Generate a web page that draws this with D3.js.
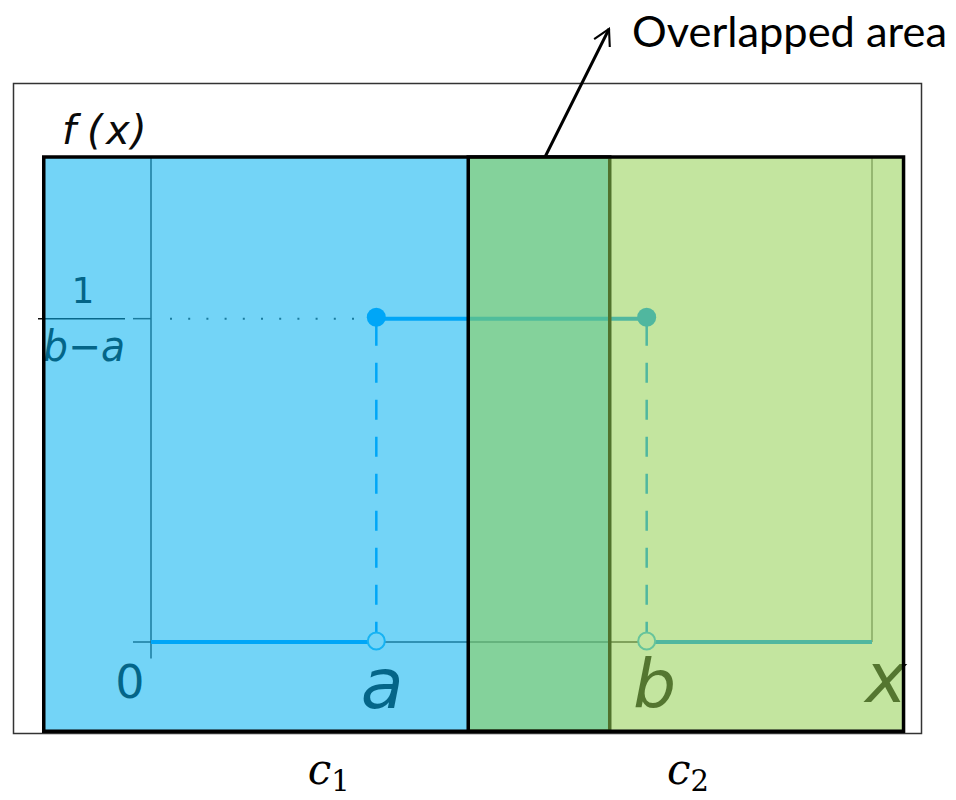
<!DOCTYPE html>
<html>
<head>
<meta charset="utf-8">
<script src="https://cdn.jsdelivr.net/npm/d3@7"></script>
<style>
  body { margin: 0; background: #fff; }
  svg { display: block; }
</style>
</head>
<body>
<div id="chart"></div>
<script>
// uniform pdf: 0 before a, 1/(b-a) between a and b, 0 after b
const bounds = { a: 2.5, b: 5.5 };
const xExtent = [0, 8];
const yExtent = [0, 0.5];
const pdfHeight = 1 / (bounds.b - bounds.a);

// the two shaded regions and their labels
const regionNames = ["c1", "c2"];
const regionX = [[-1.19, 5.09], [3.52, 8.35]];
const regionY = [-0.092, 0.5];
const regionFills = ["#00b0f0", "#92d050"];

const width = 956, height = 800;
const svg = d3.select("#chart").append("svg")
  .attr("width", width)
  .attr("height", height);

const x = d3.scaleLinear().domain(xExtent).range([151, 872]);
const y = d3.scaleLinear().domain(yExtent).range([642, 157]);

const axisColor = "#3a3a3a";
const lineColor = "#0099ff";
const mathFont = "'DejaVu Sans', sans-serif";

// outer frame
svg.append("rect")
  .attr("x", 13.5).attr("y", 83.5)
  .attr("width", 908).attr("height", 650)
  .attr("fill", "none")
  .attr("stroke", "#333")
  .attr("stroke-width", 1.5);

const plot = svg.append("g");

// axes
plot.append("line")
  .attr("x1", x(-0.2)).attr("x2", x(xExtent[1]))
  .attr("y1", y(0)).attr("y2", y(0))
  .attr("stroke", axisColor).attr("stroke-width", 1.5);
plot.append("line")
  .attr("x1", x(0)).attr("x2", x(0))
  .attr("y1", y(yExtent[1])).attr("y2", y(-0.017))
  .attr("stroke", axisColor).attr("stroke-width", 1.5);
plot.append("line")
  .attr("x1", x(xExtent[1])).attr("x2", x(xExtent[1]))
  .attr("y1", y(yExtent[1])).attr("y2", y(0))
  .attr("stroke", "#555").attr("stroke-width", 1.2);

// y tick at 1/(b-a) and dotted guide
plot.append("line")
  .attr("x1", x(-0.2)).attr("x2", x(0))
  .attr("y1", y(pdfHeight)).attr("y2", y(pdfHeight))
  .attr("stroke", axisColor).attr("stroke-width", 1.5);
plot.append("line")
  .attr("x1", 38).attr("x2", 125)
  .attr("y1", y(pdfHeight)).attr("y2", y(pdfHeight))
  .attr("stroke", "#111").attr("stroke-width", 1.5);
plot.append("line")
  .attr("x1", x(0) + 19).attr("x2", x(bounds.a) - 10)
  .attr("y1", y(pdfHeight)).attr("y2", y(pdfHeight))
  .attr("stroke", axisColor).attr("stroke-width", 2)
  .attr("stroke-dasharray", "2,16.2");

// pdf segments
const segments = [
  [[xExtent[0], 0], [bounds.a, 0]],
  [[bounds.a, pdfHeight], [bounds.b, pdfHeight]],
  [[bounds.b, 0], [xExtent[1], 0]]
];
const line = d3.line().x(d => x(d[0])).y(d => y(d[1]));
plot.selectAll("path.seg")
  .data(segments)
  .join("path")
  .attr("class", "seg")
  .attr("d", line)
  .attr("fill", "none")
  .attr("stroke", lineColor)
  .attr("stroke-width", 4);

// dashed drops
plot.selectAll("line.drop")
  .data([bounds.a, bounds.b])
  .join("line")
  .attr("class", "drop")
  .attr("x1", d => x(d)).attr("x2", d => x(d))
  .attr("y1", y(pdfHeight)).attr("y2", y(0) - 8)
  .attr("stroke", lineColor)
  .attr("stroke-width", 2.5)
  .attr("stroke-dasharray", "27,17,20,17,20,17,20,17,20,17,20,17,20,17,20,17,20,17");

// filled and open end points
plot.selectAll("circle.filled")
  .data([bounds.a, bounds.b])
  .join("circle")
  .attr("cx", d => x(d)).attr("cy", y(pdfHeight) - 1.5)
  .attr("r", 9.5)
  .attr("fill", lineColor);
plot.selectAll("circle.open")
  .data([bounds.a, bounds.b])
  .join("circle")
  .attr("cx", d => x(d)).attr("cy", y(0) - 1)
  .attr("r", 8.5)
  .attr("fill", "#fff")
  .attr("stroke", "#33b5f5")
  .attr("stroke-width", 2);

// math labels
const labels = plot.append("g")
  .attr("font-family", mathFont)
  .attr("fill", "#0a0a0a");
const fx = labels.append("text").attr("y", 144)
  .attr("font-size", 40).attr("font-style", "italic");
[["f", 62], ["(", 87], ["x", 106], [")", 131]].forEach(([s, px]) => {
  fx.append("tspan").attr("x", px).text(s);
});
labels.append("text").attr("x", 83).attr("y", 303)
  .attr("text-anchor", "middle").attr("font-size", 36).text("1");
labels.append("text").attr("x", 84).attr("y", 361)
  .attr("text-anchor", "middle").attr("font-size", 42).attr("font-style", "italic")
  .attr("textLength", 82).attr("lengthAdjust", "spacingAndGlyphs").text("b\u2212a");
labels.append("text").attr("x", x(0) - 21).attr("y", 698)
  .attr("text-anchor", "middle").attr("font-size", 46).text("0");
labels.append("text").attr("x", x(bounds.a) + 6).attr("y", 708)
  .attr("text-anchor", "middle").attr("font-size", 70).attr("font-style", "italic").text("a");
labels.append("text").attr("x", x(bounds.b) + 8).attr("y", 708)
  .attr("text-anchor", "middle").attr("font-size", 68).attr("font-style", "italic").text("b");
labels.append("text").attr("x", 886).attr("y", 702)
  .attr("text-anchor", "middle").attr("font-size", 70).attr("font-style", "italic").text("x");

// shaded regions on top
regionNames.forEach((name, i) => {
  svg.append("rect")
    .attr("x", x(regionX[i][0]))
    .attr("y", y(regionY[1]))
    .attr("width", x(regionX[i][1]) - x(regionX[i][0]))
    .attr("height", y(regionY[0]) - y(regionY[1]))
    .attr("fill", regionFills[i])
    .attr("fill-opacity", 0.55)
    .attr("stroke", "#000")
    .attr("stroke-width", 3.5);
});

// region labels c1, c2
regionNames.forEach((name, i) => {
  const cx = (x(regionX[i][0]) + x(regionX[i][1])) / 2;
  const t = svg.append("text")
    .attr("x", cx - 19)
    .attr("y", 784)
    .attr("font-family", "'DejaVu Serif', serif")
    .attr("fill", "#000");
  t.append("tspan").attr("font-size", 42).attr("font-style", "italic").text(name[0]);
  t.append("tspan").attr("font-size", 29).attr("dy", 7).text(name.slice(1));
});

// annotation arrow
const defs = svg.append("defs");
defs.append("marker")
  .attr("id", "arrow")
  .attr("viewBox", "0 0 12 12")
  .attr("refX", 10).attr("refY", 6)
  .attr("markerWidth", 7).attr("markerHeight", 7)
  .attr("markerUnits", "strokeWidth")
  .attr("orient", "auto")
  .append("path")
  .attr("d", "M1,1 L10,6 L1,11")
  .attr("fill", "none")
  .attr("stroke", "#000")
  .attr("stroke-width", 1.2);

svg.append("line")
  .attr("x1", 545).attr("y1", 157)
  .attr("x2", 609).attr("y2", 29)
  .attr("stroke", "#000")
  .attr("stroke-width", 3)
  .attr("marker-end", "url(#arrow)");

svg.append("text")
  .attr("x", 632).attr("y", 47)
  .attr("font-family", "Lato, sans-serif")
  .attr("font-size", 43)
  .attr("fill", "#000")
  .attr("textLength", 315)
  .attr("lengthAdjust", "spacingAndGlyphs")
  .text("Overlapped area");
</script>
</body>
</html>
